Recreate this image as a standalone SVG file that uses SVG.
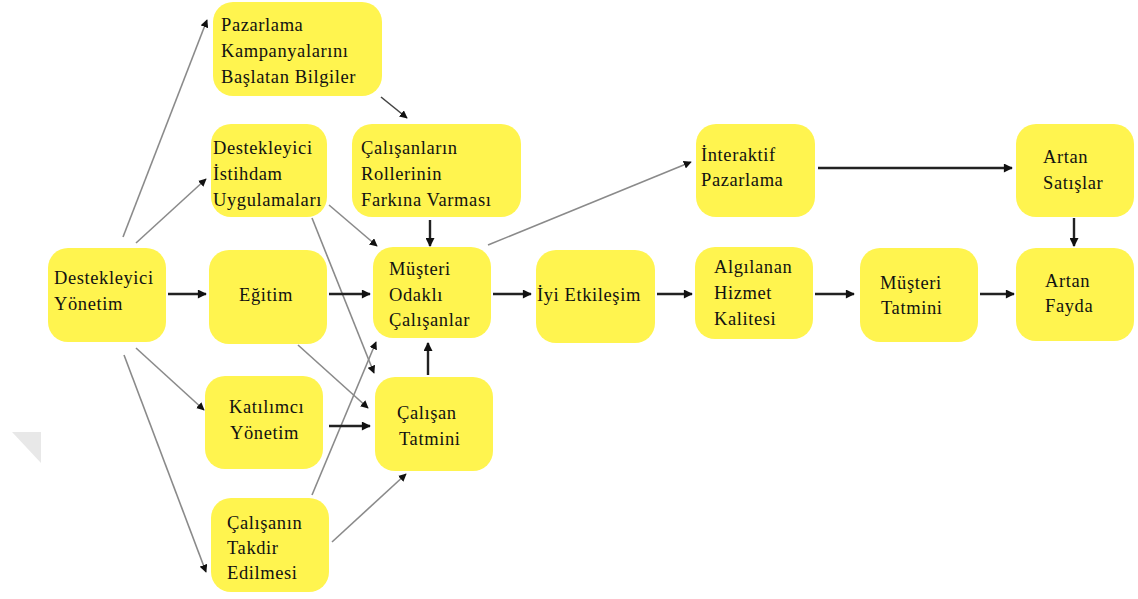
<svg xmlns="http://www.w3.org/2000/svg" width="1138" height="599" viewBox="0 0 1138 599">
<style>
.box{fill:#fff44f;}
.t{font-family:"Liberation Serif","Times New Roman",serif;font-size:18.5px;letter-spacing:0.6px;fill:#111;}
.g{stroke:#8a8a8a;stroke-width:1.6;fill:none;}
.b{stroke:#222;stroke-width:2.4;fill:none;}
</style>
<defs>
<marker id="ag" viewBox="0 0 10 10" refX="9" refY="5" markerWidth="8" markerHeight="8" markerUnits="userSpaceOnUse" orient="auto"><path d="M0,0 L10,5 L0,10 z" fill="#111"/></marker>
<marker id="ab" viewBox="0 0 10 10" refX="9" refY="5" markerWidth="10" markerHeight="9" markerUnits="userSpaceOnUse" orient="auto"><path d="M0,0 L10,5 L0,10 z" fill="#111"/></marker>
</defs>
<rect width="1138" height="599" fill="#fff"/>
<polygon points="12,432 41,432 41,463" fill="#e8e8e8"/>
<g id="connectors">
<line class="g" x1="123" y1="237" x2="207" y2="20" marker-end="url(#ag)"/>
<line class="g" x1="136" y1="243" x2="206" y2="179" marker-end="url(#ag)"/>
<line class="g" x1="381" y1="97" x2="407" y2="118" marker-end="url(#ag)" style="stroke:#444"/>
<line class="g" x1="329" y1="205" x2="377" y2="246" marker-end="url(#ag)"/>
<line class="g" x1="312" y1="218" x2="374" y2="373" marker-end="url(#ag)"/>
<line class="g" x1="298" y1="345" x2="368" y2="408" marker-end="url(#ag)"/>
<line class="g" x1="312" y1="495" x2="376" y2="342" marker-end="url(#ag)"/>
<line class="g" x1="332" y1="542" x2="406" y2="474" marker-end="url(#ag)"/>
<line class="g" x1="136" y1="348" x2="204" y2="410" marker-end="url(#ag)"/>
<line class="g" x1="124" y1="355" x2="206" y2="572" marker-end="url(#ag)"/>
<line class="g" x1="488" y1="245" x2="691" y2="162" marker-end="url(#ag)"/>
<line class="b" x1="168" y1="294" x2="206" y2="294" marker-end="url(#ab)"/>
<line class="b" x1="329" y1="294" x2="370" y2="294" marker-end="url(#ab)"/>
<line class="b" x1="493" y1="294" x2="531" y2="294" marker-end="url(#ab)"/>
<line class="b" x1="657" y1="294" x2="692" y2="294" marker-end="url(#ab)"/>
<line class="b" x1="815" y1="294" x2="854" y2="294" marker-end="url(#ab)"/>
<line class="b" x1="980" y1="294" x2="1014" y2="294" marker-end="url(#ab)"/>
<line class="b" x1="818" y1="168" x2="1012" y2="168" marker-end="url(#ab)"/>
<line class="b" x1="1074" y1="218" x2="1074" y2="246" marker-end="url(#ab)"/>
<line class="b" x1="430" y1="220" x2="430" y2="246" marker-end="url(#ab)"/>
<line class="b" x1="428" y1="375" x2="428" y2="343" marker-end="url(#ab)"/>
<line class="b" x1="329" y1="426" x2="370" y2="426" marker-end="url(#ab)"/>
</g>
<g id="n-pazarlama"><rect class="box" x="213" y="2" width="169" height="94" rx="20"/>
<text class="t"><tspan x="221" y="31">Pazarlama</tspan><tspan x="221" y="57">Kampanyalarını</tspan><tspan x="221" y="83">Başlatan Bilgiler</tspan></text></g>
<g id="n-istihdam"><rect class="box" x="211" y="124" width="116" height="93" rx="20"/>
<text class="t"><tspan x="213" y="154">Destekleyici</tspan><tspan x="213" y="180">İstihdam</tspan><tspan x="213" y="206">Uygulamaları</tspan></text></g>
<g id="n-roller"><rect class="box" x="352" y="124" width="169" height="93" rx="20"/>
<text class="t"><tspan x="361" y="154">Çalışanların</tspan><tspan x="361" y="180">Rollerinin</tspan><tspan x="361" y="206">Farkına Varması</tspan></text></g>
<g id="n-yonetim"><rect class="box" x="48" y="248" width="118" height="94" rx="20"/>
<text class="t"><tspan x="54" y="284">Destekleyici</tspan><tspan x="54" y="310">Yönetim</tspan></text></g>
<g id="n-egitim"><rect class="box" x="209" y="250" width="118" height="94" rx="20"/>
<text class="t"><tspan x="239" y="301">Eğitim</tspan></text></g>
<g id="n-musteri-odakli"><rect class="box" x="373" y="247" width="118" height="91" rx="20"/>
<text class="t"><tspan x="389" y="275">Müşteri</tspan><tspan x="389" y="301">Odaklı</tspan><tspan x="389" y="326">Çalışanlar</tspan></text></g>
<g id="n-iyi"><rect class="box" x="536" y="250" width="119" height="93" rx="20"/>
<text class="t"><tspan x="537" y="301">İyi Etkileşim</tspan></text></g>
<g id="n-interaktif"><rect class="box" x="696" y="124" width="119" height="93" rx="20"/>
<text class="t"><tspan x="701" y="161">İnteraktif</tspan><tspan x="701" y="186">Pazarlama</tspan></text></g>
<g id="n-satislar"><rect class="box" x="1016" y="124" width="118" height="93" rx="20"/>
<text class="t"><tspan x="1043" y="163">Artan</tspan><tspan x="1043" y="189">Satışlar</tspan></text></g>
<g id="n-algilanan"><rect class="box" x="695" y="247" width="118" height="92" rx="20"/>
<text class="t"><tspan x="714" y="273">Algılanan</tspan><tspan x="714" y="299">Hizmet</tspan><tspan x="714" y="325">Kalitesi</tspan></text></g>
<g id="n-musteri-tatmini"><rect class="box" x="860" y="248" width="118" height="94" rx="20"/>
<text class="t"><tspan x="880" y="289">Müşteri</tspan><tspan x="881" y="314">Tatmini</tspan></text></g>
<g id="n-fayda"><rect class="box" x="1016" y="248" width="118" height="93" rx="20"/>
<text class="t"><tspan x="1045" y="287">Artan</tspan><tspan x="1045" y="312">Fayda</tspan></text></g>
<g id="n-katilimci"><rect class="box" x="205" y="376" width="118" height="93" rx="20"/>
<text class="t"><tspan x="229" y="413">Katılımcı</tspan><tspan x="230" y="439">Yönetim</tspan></text></g>
<g id="n-calisan-tatmini"><rect class="box" x="375" y="377" width="118" height="94" rx="20"/>
<text class="t"><tspan x="397" y="419">Çalışan</tspan><tspan x="399" y="445">Tatmini</tspan></text></g>
<g id="n-takdir"><rect class="box" x="211" y="498" width="118" height="94" rx="20"/>
<text class="t"><tspan x="227" y="529">Çalışanın</tspan><tspan x="227" y="554">Takdir</tspan><tspan x="227" y="579">Edilmesi</tspan></text></g>
</svg>
